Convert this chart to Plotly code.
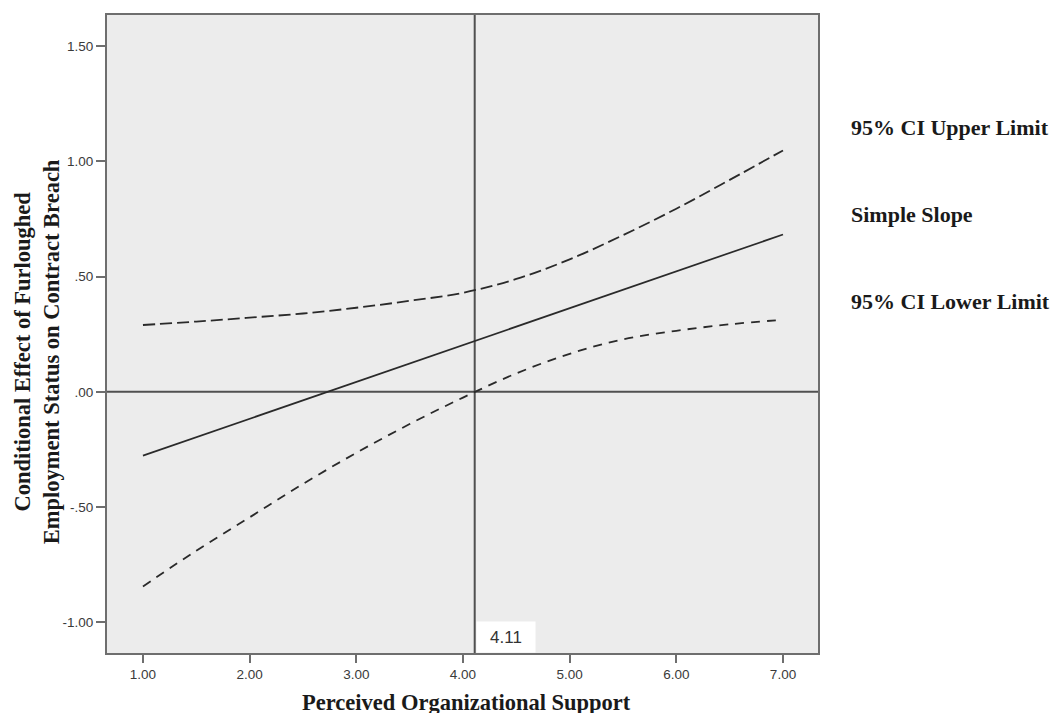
import plotly.graph_objects as go

# ---- data ----
pos = [1.0, 1.5, 2.0, 2.5, 3.0, 3.5, 4.0, 4.5, 5.0, 5.5, 6.0, 6.5, 7.0]
ci_upper = [0.290, 0.305, 0.322, 0.340, 0.365, 0.395, 0.430, 0.490, 0.575, 0.680, 0.795, 0.920, 1.048]
ci_lower = [-0.845, -0.690, -0.545, -0.400, -0.265, -0.140, -0.025, 0.080, 0.165, 0.228, 0.265, 0.293, 0.313]
slope_x = [1.0, 7.0]
slope_y = [-0.277, 0.683]
jn_point = 4.11
zero_ref = 0.0

x_ticks = [1, 2, 3, 4, 5, 6, 7]
x_ticktext = ["1.00", "2.00", "3.00", "4.00", "5.00", "6.00", "7.00"]
y_ticks = [1.5, 1.0, 0.5, 0.0, -0.5, -1.0]
y_ticktext = ["1.50", "1.00", ".50", ".00", "-.50", "-1.00"]
legend_labels = ["95% CI Upper Limit", "Simple Slope", "95% CI Lower Limit"]

LINE = "#2a2a2a"
FRAME = "#6e6e6e"
SANS = "Liberation Sans, Arial, sans-serif"
TICKFONT = dict(family=SANS, size=13.5, color="#3a3a3a")
SERIF_B = "Liberation Serif, Times New Roman, serif"

fig = go.Figure()
fig.add_trace(go.Scatter(x=pos, y=ci_upper, mode="lines", line=dict(color=LINE, width=1.8, dash="12px,5px", shape="spline"),
                         showlegend=False, hoverinfo="skip"))
fig.add_trace(go.Scatter(x=slope_x, y=slope_y, mode="lines", line=dict(color=LINE, width=1.7),
                         showlegend=False, hoverinfo="skip"))
fig.add_trace(go.Scatter(x=pos, y=ci_lower, mode="lines", line=dict(color=LINE, width=1.8, dash="9px,7px", shape="spline"),
                         showlegend=False, hoverinfo="skip"))

shapes = [
    dict(type="line", xref="paper", yref="y", x0=0, x1=1, y0=zero_ref, y1=zero_ref,
         line=dict(color="#505050", width=2), layer="below"),
    dict(type="line", xref="x", yref="paper", x0=jn_point, x1=jn_point, y0=0, y1=1,
         line=dict(color="#505050", width=2), layer="below"),
]

annotations = [
    dict(text=str(jn_point), x=jn_point, y=0, xref="x", yref="paper", xanchor="left", yanchor="bottom",
         xshift=1, showarrow=False, bgcolor="white", borderpad=3, width=52, height=24,
         font=dict(family=SANS, size=17, color="#333333")),
    dict(text="Conditional Effect of Furloughed<br>Employment Status on Contract Breach",
         x=-0.0985, y=0.473, xref="paper", yref="paper", xanchor="center", yanchor="middle",
         textangle=-90, showarrow=False,
         font=dict(family=SERIF_B, size=22.5, color="#1a1a1a", weight="bold")),
    dict(text="Perceived Organizational Support", x=0.505, y=-0.077, xref="paper", yref="paper",
         xanchor="center", yanchor="middle", showarrow=False,
         font=dict(family=SERIF_B, size=22.5, color="#1a1a1a", weight="bold")),
]
leg_y = [0.8234, 0.6875, 0.5516]
for lab, yy in zip(legend_labels, leg_y):
    annotations.append(dict(text=lab, x=1.043, y=yy, xref="paper", yref="paper", xanchor="left",
                            yanchor="middle", showarrow=False,
                            font=dict(family=SERIF_B, size=22, color="#1a1a1a", weight="bold")))

fig.update_layout(
    width=1060, height=713,
    margin=dict(l=99, r=250, t=5, b=68),
    paper_bgcolor="white", plot_bgcolor="#ececec",
    shapes=shapes, annotations=annotations,
    xaxis=dict(range=[0.663, 7.328], tickvals=x_ticks, ticktext=x_ticktext, ticks="outside",
               ticklen=8, tickwidth=2, tickcolor=FRAME, showgrid=False, zeroline=False,
               showline=True, linecolor=FRAME, linewidth=2, mirror=True, tickfont=TICKFONT),
    yaxis=dict(range=[-1.134, 1.636], tickvals=y_ticks, ticktext=y_ticktext, ticks="outside",
               ticklen=9, tickwidth=2, tickcolor=FRAME, showgrid=False, zeroline=False,
               showline=True, linecolor=FRAME, linewidth=2, mirror=True, tickfont=TICKFONT),
)

fig.write_html("out.html")
